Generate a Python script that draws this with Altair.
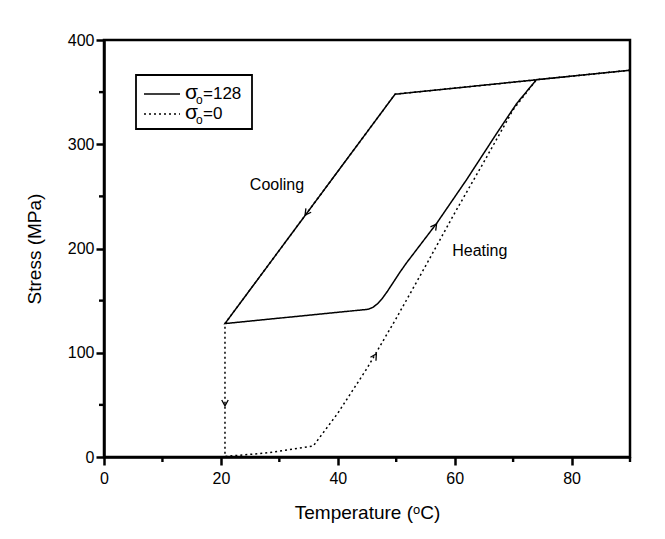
import altair as alt
import pandas as pd

# ---- data ----
series_names = ["σo=128", "σo=0"]

solid_T = [90, 49.8, 20.7, 45.2, 46.0, 46.8, 47.6, 48.5, 49.5, 50.6, 51.8, 56.9, 62.0, 67.2, 70.6, 74.0, 90]
solid_S = [371, 348, 128, 141.7, 143.5, 147, 152, 159, 167.5, 177, 186.5, 224, 265.7, 310.5, 339, 362, 371]

dotted_T = [90, 49.8, 20.7, 20.7, 28, 35.8, 40, 45, 50, 55, 60, 65, 70, 74, 90]
dotted_S = [371, 348, 128, 0.5, 4, 10.5, 42, 85, 133, 183, 234, 283, 333, 362, 371]

arrow_T = [34.4, 56.9, 46.6, 20.7]
arrow_S = [232, 223.5, 98.8, 49]
arrow_angle = [216, 36, 32, 180]

label_text = ["Cooling", "Heating"]
label_T = [29.6, 64.3]
label_S = [261, 197.6]

x_major = [0, 20, 40, 60, 80]
x_minor = [10, 30, 50, 70, 90]
y_major = [0, 100, 200, 300, 400]
y_minor = [50, 150, 250, 350]

legend_main = ["σ", "σ"]
legend_sub = ["o", "o"]
legend_tail = ["=128", "=0"]

# ---- tables ----
rows = []
for i, (t, s) in enumerate(zip(solid_T, solid_S)):
    rows.append({"T": t, "S": s, "series": series_names[0], "i": i})
for i, (t, s) in enumerate(zip(dotted_T, dotted_S)):
    rows.append({"T": t, "S": s, "series": series_names[1], "i": i})
lines_df = pd.DataFrame(rows)
arrows_df = pd.DataFrame({"T": arrow_T, "S": arrow_S, "a": arrow_angle})
labels_df = pd.DataFrame({"T": label_T, "S": label_S, "t": label_text})

FONT = "Liberation Sans"
W, H = 526, 417
DASHES = [[1, 0], [2, 3]]

xscale = alt.Scale(domain=[0, 90], nice=False, zero=False)
yscale = alt.Scale(domain=[0, 400], nice=False)

x_axis = alt.Axis(
    values=x_major,
    ticks=True,
    tickSize=8,
    title="Temperature (ᵒC)",
    titlePadding=17,
    labelPadding=5,
    labelFlush=False,
    labelOverlap=False,
    grid=False,
)
y_axis = alt.Axis(
    values=y_major,
    ticks=True,
    tickSize=8,
    title="Stress (MPa)",
    titlePadding=23,
    labelPadding=2,
    labelFlush=False,
    labelOverlap=False,
    grid=False,
)

lines = alt.Chart(lines_df).mark_line(color="black", strokeWidth=1.5).encode(
    x=alt.X("T:Q", scale=xscale, axis=x_axis),
    y=alt.Y("S:Q", scale=yscale, axis=y_axis),
    detail="series:N",
    order="i:Q",
    strokeDash=alt.StrokeDash(
        "series:N",
        scale=alt.Scale(domain=series_names, range=DASHES),
        legend=None,
    ),
)

chevron = "M -0.55 1 L 0 0 L 0.55 1"
arrows = alt.Chart(arrows_df).mark_point(
    shape=chevron, filled=False, stroke="black", strokeWidth=1.3, size=140, opacity=1
).encode(
    x=alt.X("T:Q", scale=xscale),
    y=alt.Y("S:Q", scale=yscale),
    angle=alt.Angle("a:Q", scale=None),
)

texts = alt.Chart(labels_df).mark_text(
    font=FONT, fontSize=16, color="black", align="center", baseline="middle"
).encode(
    x=alt.X("T:Q", scale=xscale),
    y=alt.Y("S:Q", scale=yscale),
    text="t:N",
)

# minor ticks (outside the plot area)
xminor = alt.Chart(pd.DataFrame({"T": x_minor})).mark_rule(
    color="black", strokeWidth=2.4, clip=False
).encode(x=alt.X("T:Q", scale=xscale), y=alt.value(H), y2=alt.value(H + 5))
yminor = alt.Chart(pd.DataFrame({"S": y_minor})).mark_rule(
    color="black", strokeWidth=2.4, clip=False
).encode(y=alt.Y("S:Q", scale=yscale), x=alt.value(0), x2=alt.value(-5))

# legend drawn by hand (pixel positions are styling only)
one = pd.DataFrame({"k": [0]})
box = alt.Chart(one).mark_rect(
    fill="white", stroke="black", strokeWidth=1.8
).encode(x=alt.value(32), x2=alt.value(148), y=alt.value(35), y2=alt.value(89))

legend_layers = [box]
row_px = [54, 74]
for r in range(2):
    ry = row_px[r]
    legend_layers.append(
        alt.Chart(one).mark_rule(color="black", strokeWidth=1.5, strokeDash=DASHES[r]).encode(
            x=alt.value(40), x2=alt.value(76), y=alt.value(ry)
        )
    )
    legend_layers.append(
        alt.Chart(one).mark_text(
            font=FONT, fontSize=21, align="left", baseline="middle", dy=-1,
            color="black", text=legend_main[r]
        ).encode(x=alt.value(81), y=alt.value(ry))
    )
    legend_layers.append(
        alt.Chart(one).mark_text(
            font=FONT, fontSize=12, align="left", baseline="middle", dy=6,
            color="black", text=legend_sub[r]
        ).encode(x=alt.value(92), y=alt.value(ry))
    )
    legend_layers.append(
        alt.Chart(one).mark_text(
            font=FONT, fontSize=17, align="left", baseline="middle",
            color="black", text=legend_tail[r]
        ).encode(x=alt.value(99), y=alt.value(ry))
    )

chart = (
    alt.layer(lines, arrows, texts, xminor, yminor, *legend_layers)
    .properties(
        width=W,
        height=H,
        autosize=alt.AutoSizeParams(type="none"),
        padding={"left": 96, "top": 32, "right": 27, "bottom": 74},
        background="white",
    )
    .configure_view(stroke="black", strokeWidth=2.5)
    .configure_axis(
        domainColor="black",
        domainWidth=2.5,
        tickColor="black",
        tickWidth=2.5,
        labelFont=FONT,
        labelFontSize=16,
        labelColor="black",
        titleFont=FONT,
        titleFontSize=19,
        titleFontWeight="normal",
        titleColor="black",
    )
)

chart.save("out.html", embed_options={"renderer": "svg", "actions": False})
